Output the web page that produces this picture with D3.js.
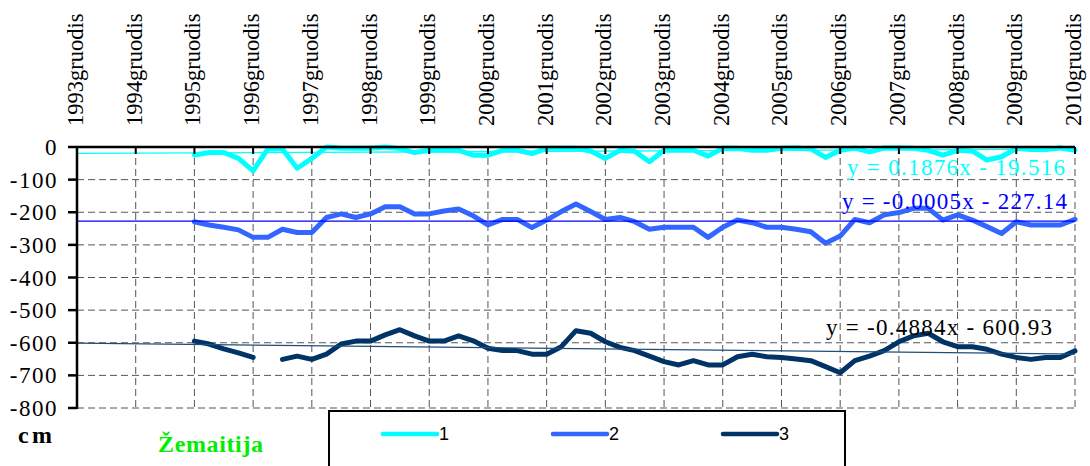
<!DOCTYPE html>
<html>
<head>
<meta charset="utf-8">
<script src="https://cdn.jsdelivr.net/npm/d3@7"></script>
<style>
  html, body { margin: 0; padding: 0; background: #fff; }
  svg { display: block; }
  .serif { font-family: "Liberation Serif", "Times New Roman", Times, serif; }
  .sans { font-family: "Liberation Sans", Arial, Helvetica, sans-serif; }
</style>
</head>
<body>
<svg id="chart" width="1090" height="466"></svg>
<script>
// Quarterly observations, index 1 = 1993 December ... 69 = 2010 December
const years = d3.range(1993, 2011);
const yearLabels = years.map(y => y + "gruodis");
const quarterIndex = d3.range(1, 70);

// Level series (cm); null = no measurement
const series1 = [null, null, null, null, null, null, null, null,
  -25, -17, -17, -35, -73, -6, -6, -65, -35, 0,
  -4, -4, -4, 0, -5, -17, -10, -10, -10, -25,
  -25, -10, -10, -20, -4, -4, -4, -12, -35, -10,
  -13, -45, -10, -10, -10, -28, -4, -4, -10, -10,
  -4, -3, -6, -32, -10, -3, -15, -3, -3, -4,
  -10, -25, -10, -12, -40, -30, -4, -8, -8, -3, -10];
const series2 = [null, null, null, null, null, null, null, null,
  -229, -239, -246, -254, -277, -277, -252, -262, -262, -216,
  -205, -216, -205, -183, -183, -205, -205, -196, -190, -211,
  -239, -222, -222, -247, -224, -198, -175, -198, -222, -216,
  -229, -252, -246, -246, -246, -277, -246, -224, -232, -246,
  -246, -252, -260, -295, -273, -222, -232, -208, -201, -188,
  -188, -224, -208, -224, -244, -265, -229, -239, -239, -239, -222];
const series3 = [null, null, null, null, null, null, null, null,
  -595, -604, -619, -631, -645, null, -651, -641, -651, -635,
  -604, -595, -595, -576, -560, -579, -595, -595, -579, -594,
  -617, -624, -624, -635, -635, -612, -563, -571, -597, -614,
  -624, -641, -658, -668, -655, -668, -668, -643, -635, -643,
  -645, -650, -655, -673, -692, -655, -641, -624, -597, -579,
  -571, -597, -612, -612, -620, -635, -645, -651, -645, -645, -625];

const seriesNames = ["1", "2", "3"];
const seriesColors = ["#00FFFF", "#3366FF", "#003366"];

// Linear trend coefficients: y = slope * x + intercept
const trendSlopes = [0.1876, -0.0005, -0.4884];
const trendIntercepts = [-19.516, -227.14, -600.93];
const trendColors = ["#00FFFF", "#0000FF", "#1F4E79"];
const trendTextColors = ["#00FFFF", "#0000FF", "#000000"];

const yTicks = d3.range(0, -801, -100);

const svg = d3.select("#chart");
const plotLeft = 77, plotRight = 1075, plotTop = 147, plotBottom = 408;

const x = d3.scaleLinear().domain([1, 69]).range([plotLeft, plotRight]);
const y = d3.scaleLinear().domain([-800, 0]).range([plotBottom, plotTop]);
const yearIndex = yr => 1 + (yr - 1993) * 4;

// grid
const grid = svg.append("g").attr("stroke", "#555").attr("stroke-width", 1)
  .attr("stroke-dasharray", "7,4").attr("fill", "none");
grid.selectAll("line.h").data(yTicks.filter(v => v < 0)).join("line")
  .attr("class", "h")
  .attr("x1", plotLeft).attr("x2", plotRight)
  .attr("y1", d => y(d)).attr("y2", d => y(d));
grid.selectAll("line.v").data(years.slice(1)).join("line")
  .attr("class", "v")
  .attr("x1", d => x(yearIndex(d))).attr("x2", d => x(yearIndex(d)))
  .attr("y1", plotTop).attr("y2", plotBottom);

// series lines
const allSeries = [series1, series2, series3];
const line = d3.line()
  .defined(d => d.v !== null)
  .x(d => x(d.i)).y(d => y(d.v));
allSeries.forEach((s, k) => {
  svg.append("path")
    .datum(quarterIndex.map((i, j) => ({ i, v: s[j] })))
    .attr("fill", "none")
    .attr("stroke", seriesColors[k])
    .attr("stroke-width", 5)
    .attr("stroke-linejoin", "round")
    .attr("stroke-linecap", "round")
    .attr("d", line);
});

// trend lines
trendSlopes.forEach((m, k) => {
  const b = trendIntercepts[k];
  svg.append("line")
    .attr("x1", x(1)).attr("x2", x(69))
    .attr("y1", y(m * 1 + b)).attr("y2", y(m * 69 + b))
    .attr("stroke", trendColors[k]).attr("stroke-width", 1.3);
});

// axes
const axes = svg.append("g").attr("stroke", "#000").attr("stroke-width", 2.5);
axes.append("line").attr("x1", plotLeft).attr("x2", plotLeft).attr("y1", plotTop - 1).attr("y2", plotBottom + 1);
axes.append("line").attr("x1", plotLeft - 9).attr("x2", plotRight).attr("y1", plotTop).attr("y2", plotTop);
axes.selectAll("line.yt").data(yTicks.filter(v => v < 0)).join("line")
  .attr("class", "yt")
  .attr("x1", plotLeft - 9).attr("x2", plotLeft)
  .attr("y1", d => y(d)).attr("y2", d => y(d));
axes.selectAll("line.xt").data(years.slice(1)).join("line")
  .attr("class", "xt")
  .attr("stroke-width", 2)
  .attr("x1", d => x(yearIndex(d))).attr("x2", d => x(yearIndex(d)))
  .attr("y1", plotTop).attr("y2", plotTop + 7);

// y labels
svg.append("g").selectAll("text").data(yTicks).join("text")
  .attr("class", "serif")
  .attr("x", 58).attr("y", d => y(d))
  .attr("dy", "0.35em")
  .attr("text-anchor", "end")
  .attr("font-size", 23)
  .attr("letter-spacing", 1.5)
  .text(d => d === 0 ? "0" : "-" + Math.abs(d));

// x labels (rotated)
svg.append("g").selectAll("text").data(years).join("text")
  .attr("class", "serif")
  .attr("transform", d => `translate(${x(yearIndex(d)) + 6},126) rotate(-90)`)
  .attr("text-anchor", "start")
  .attr("font-size", 22.5)
  .text((d, i) => yearLabels[i]);

// unit and region titles
svg.append("text").attr("class", "serif").attr("x", 18).attr("y", 443)
  .attr("font-size", 24).attr("font-weight", "bold")
  .attr("textLength", 34).attr("lengthAdjust", "spacing")
  .text("cm");
svg.append("text").attr("class", "serif").attr("x", 158).attr("y", 452)
  .attr("font-size", 24).attr("font-weight", "bold")
  .attr("fill", "#00EE00")
  .attr("textLength", 105).attr("lengthAdjust", "spacing")
  .text("Žemaitija");

// trend equations
const eqPos = [
  { x: 847, y: 175, w: 218 },
  { x: 842, y: 209, w: 225 },
  { x: 826, y: 335, w: 226 }
];
trendSlopes.forEach((m, k) => {
  const b = trendIntercepts[k];
  const txt = "y = " + m + "x - " + Math.abs(b);
  svg.append("text").attr("class", "serif")
    .attr("x", eqPos[k].x).attr("y", eqPos[k].y)
    .attr("font-size", 23)
    .attr("fill", trendTextColors[k])
    .attr("textLength", eqPos[k].w).attr("lengthAdjust", "spacing")
    .text(txt);
});

// legend
const lg = svg.append("g");
lg.append("rect").attr("x", 329).attr("y", 411).attr("width", 516).attr("height", 70)
  .attr("fill", "#fff").attr("stroke", "#000").attr("stroke-width", 2);
const lgX = [383, 553, 723];
seriesNames.forEach((n, k) => {
  lg.append("line").attr("x1", lgX[k]).attr("x2", lgX[k] + 54)
    .attr("y1", 434).attr("y2", 434)
    .attr("stroke", seriesColors[k]).attr("stroke-width", 4.5)
    .attr("stroke-linecap", "round");
  lg.append("text").attr("class", "sans").attr("x", lgX[k] + 56).attr("y", 440)
    .attr("font-size", 18)
    .text(n);
});
</script>
</body>
</html>
